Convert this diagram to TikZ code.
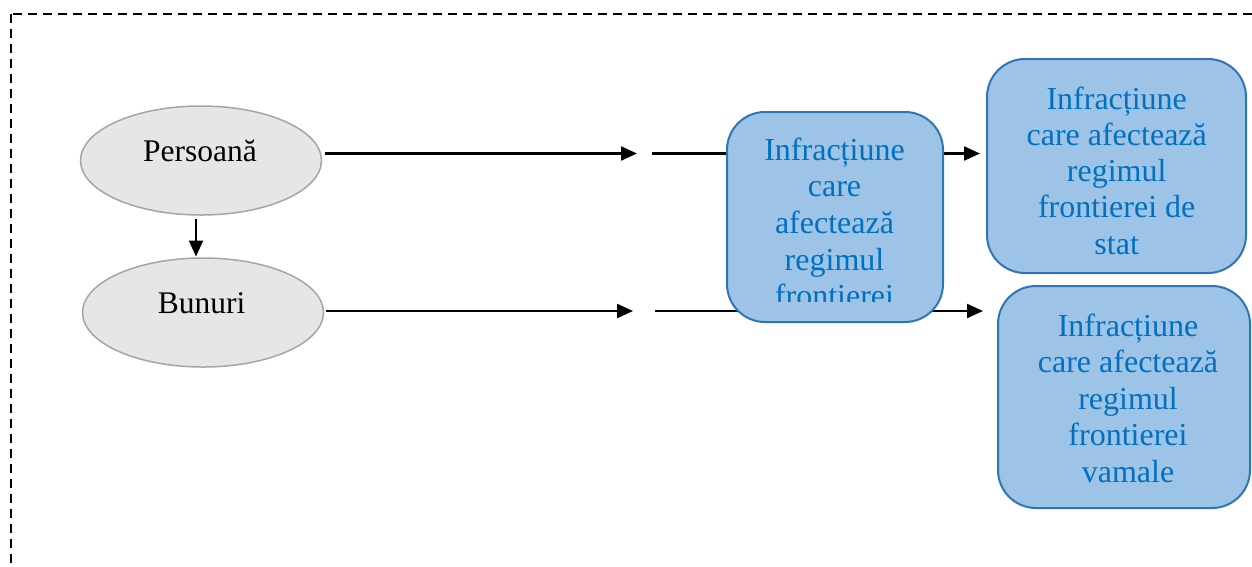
\documentclass[tikz,border=0pt]{standalone}
\usepackage{fontspec}
\setmainfont{Liberation Serif}
\usetikzlibrary{arrows.meta,shapes.geometric,backgrounds}
\definecolor{ellfill}{RGB}{230,230,230}
\definecolor{elldraw}{RGB}{165,165,165}
\definecolor{boxfill}{RGB}{157,195,230}
\definecolor{boxdraw}{RGB}{46,117,182}
\definecolor{boxtext}{RGB}{0,112,192}
\tikzset{
  oval/.style={ellipse, draw=elldraw, fill=ellfill, line width=1.5pt,
    minimum width=241pt, minimum height=109pt, inner sep=0pt, outer sep=0pt},
  rbox/.style={rectangle, rounded corners=38pt, draw=boxdraw, fill=boxfill,
    line width=2pt, inner sep=0pt, outer sep=0pt},
  ovaltext/.style={anchor=base, inner sep=0pt, font=\fontsize{31.5}{36}\selectfont},
  linetext/.style={anchor=base, inner sep=0pt, text=boxtext,
    font=\fontsize{32}{36}\selectfont},
  arr/.style={line width=2.3pt, -{Triangle[length=16pt,width=14pt]}},
  frame/.style={line width=2pt, dash pattern=on 9pt off 6pt}
}
\begin{document}
\begin{tikzpicture}[x=1pt,y=-1pt]
\useasboundingbox (0,0) rectangle (1252,566);
\clip (0,0) rectangle (1252,566);

% dashed enclosing frame
\draw[frame] (11,13.5) rectangle (1300,620);

% source ovals
\node[oval] (pe) at (201,160.5) {};
\node[ovaltext] (pet) at (200,161.7) {Persoană};
\node[oval] (bu) at (203,312.5) {};
\node[ovaltext] (but) at (201.5,313) {Bunuri};

% offence boxes
\node[rbox, minimum width=216pt, minimum height=210pt] (b1) at (835,217) {};
\node[rbox, minimum width=259pt, minimum height=214pt] (b2) at (1116.5,166) {};
\node[rbox, minimum width=252pt, minimum height=222pt] (b3) at (1124,397) {};

% box labels
\begin{scope}
  \clip (700,100) rectangle (960,301.7);
  \foreach \t [count=\i] in {Infracțiune,care,afectează,regimul,frontierei}
    \node[linetext] (b1l\i) at (834.5,{160+36.7*(\i-1)}) {\t};
\end{scope}
\foreach \t [count=\i] in {Infracțiune,care afectează,regimul,frontierei de,stat}
  \node[linetext] (b2l\i) at (1116.7,{109+36.3*(\i-1)}) {\t};
\foreach \t [count=\i] in {Infracțiune,care afectează,regimul,frontierei,vamale}
  \node[linetext] (b3l\i) at (1128,{336+36.5*(\i-1)}) {\t};

% connector break points
\coordinate (g1) at (637,153.5);
\coordinate (g1b) at (652,153.5);
\coordinate (g2) at (633,311);
\coordinate (g2b) at (655,311);
\coordinate (vx) at (196,0);

\begin{scope}[on background layer]
  \draw[arr, shorten <=3pt] (pe.east |- g1) -- (g1);
  \draw[arr, shorten >=7pt] (g1b) -- (b2.west |- g1b);
  \draw[arr, shorten <=2pt] (bu.east |- g2) -- (g2);
  \draw[arr, shorten >=15pt] (g2b) -- (b3.west |- g2b);
  \draw[arr, shorten <=4pt, shorten >=1.5pt] (pe.south -| vx) -- (bu.north -| vx);
\end{scope}
\end{tikzpicture}
\end{document}
